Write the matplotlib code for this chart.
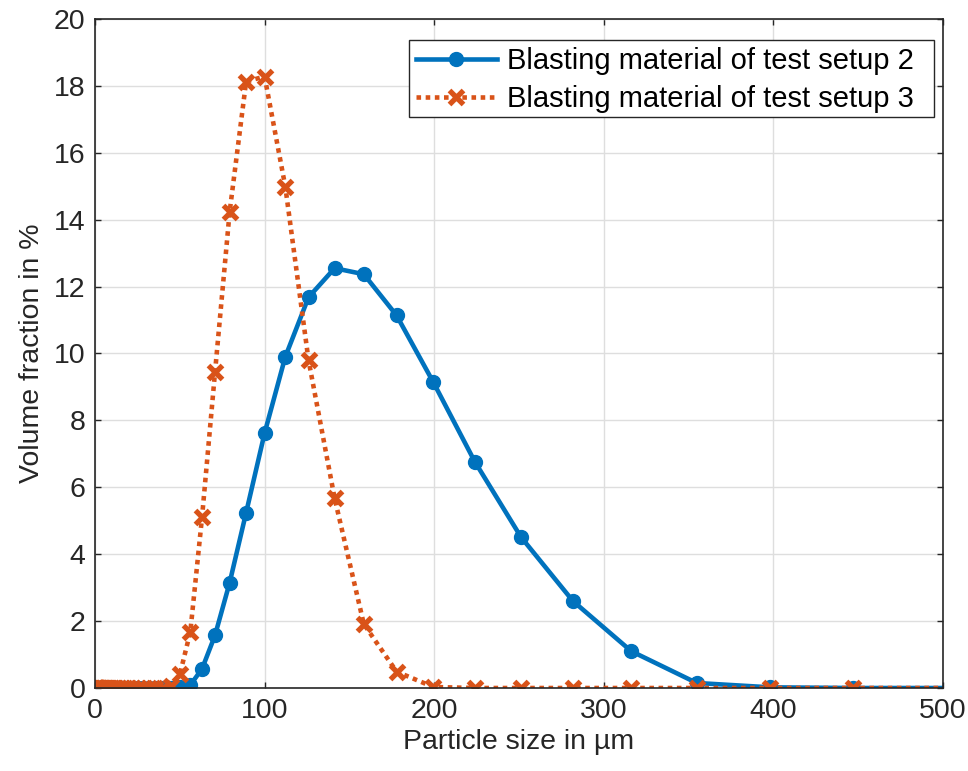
import matplotlib
matplotlib.use("Agg")
import matplotlib.pyplot as plt
from matplotlib.patches import Rectangle

plt.rcParams['font.family'] = ['Liberation Sans', 'DejaVu Sans']

# particle size classes (µm)
size_um = [0.5, 0.562, 0.631, 0.708, 0.794, 0.891, 1.0, 1.12, 1.26, 1.41, 1.58, 1.78,
           2.0, 2.24, 2.51, 2.82, 3.16, 3.55, 3.98, 4.47, 5.01, 5.62, 6.31, 7.08,
           7.94, 8.91, 10.0, 11.2, 12.6, 14.1, 15.8, 17.8, 20.0, 22.4, 25.1, 28.2,
           31.6, 35.5, 39.8, 44.7, 50.1, 56.2, 63.1, 70.8, 79.4, 89.1, 100.0, 112.2,
           125.9, 141.3, 158.5, 177.8, 199.5, 223.9, 251.2, 281.8, 316.2, 354.8,
           398.1, 446.7, 501.2]

zeros_low = [0.0] * 39  # sizes 0.5 .. 39.8

setup2 = zeros_low + [0.0, 0.02, 0.09, 0.57, 1.58, 3.15, 5.24, 7.62, 9.9, 11.68,
                      12.55, 12.37, 11.14, 9.14, 6.77, 4.51, 2.6, 1.1, 0.15, 0.02, 0.0, 0.0]
setup3 = zeros_low + [0.05, 0.42, 1.68, 5.1, 9.46, 14.24, 18.13, 18.28, 14.99, 9.8,
                      5.67, 1.91, 0.49, 0.03, 0.0, 0.0, 0.0, 0.0, 0.0, 0.0, 0.0, 0.0]

labels = ["Blasting material of test setup 2", "Blasting material of test setup 3"]

W, H = 968, 771
fig = plt.figure(figsize=(W / 100, H / 100), dpi=100)
ax = fig.add_axes([95/W, 83/H, 848/W, 669/H])

n = len(size_um)
ax.plot(size_um, setup2, color='#0072BD', lw=3.3, marker='o', ms=10,
        markevery=list(range(n - 1)), label=labels[0])
ax.plot(size_um, setup3, color='#D95319', lw=3.3, ls=(0, (1, 1)),
        dash_capstyle='butt', marker='x', ms=10, mew=3.8,
        markevery=list(range(n - 1)), label=labels[1])

ax.set_xlim(0, 500)
ax.set_ylim(0, 20)
ax.set_xticks([0, 100, 200, 300, 400, 500])
ax.set_yticks(range(0, 21, 2))
ax.grid(True, color='#dedede', lw=1)
ax.set_axisbelow(True)
ax.tick_params(direction='in', length=4, width=1, labelsize=20.5, colors='#262626',
               top=True, right=True, pad=7)
for s in ax.spines.values():
    s.set_color('#262626')
    s.set_linewidth(1.2)

ax.set_xlabel("Particle size in µm", fontsize=20.5, color='#262626', labelpad=4)
ax.set_ylabel("Volume fraction in %", fontsize=20.5, color='#262626', labelpad=6)

# legend box (MATLAB-style, extra room on the right)
box_l, box_t, box_r, box_b = 409, 40, 934, 117
fig.patches.append(Rectangle((box_l / W, 1 - box_b / H), (box_r - box_l) / W,
                             (box_b - box_t) / H, transform=fig.transFigure,
                             facecolor='white', edgecolor='#262626', lw=1.0,
                             zorder=5))
leg = ax.legend(loc='upper left', fontsize=21, frameon=False, borderpad=0.25,
                handlelength=2.75, handletextpad=0.35, labelspacing=0.33,
                borderaxespad=0, bbox_to_anchor=(box_l / W, 1 - box_t / H),
                bbox_transform=fig.transFigure)
leg.set_zorder(6)
leg.remove()
fig.legends.append(leg)
leg.set_figure(fig)

fig.savefig("out.png", dpi=100)
